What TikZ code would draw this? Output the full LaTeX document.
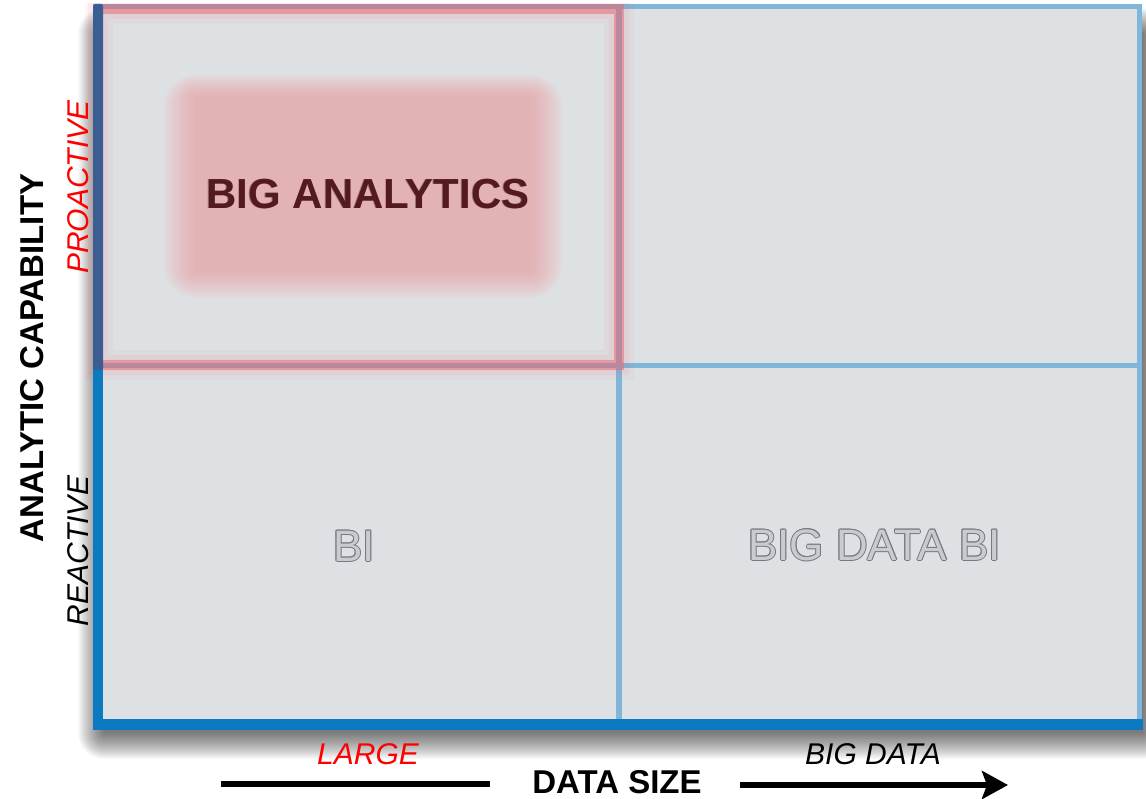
\documentclass[tikz,border=0pt]{standalone}
\usepackage{fontspec}
\setmainfont{Liberation Sans}
\usetikzlibrary{arrows.meta}

\definecolor{gridbg}{RGB}{222,225,228}
\definecolor{axisblue}{RGB}{11,123,193}
\definecolor{axisdark}{RGB}{59,94,146}
\definecolor{gridline}{RGB}{127,182,218}
\definecolor{quadred}{RGB}{235,100,110}
\definecolor{glowpink}{RGB}{248,150,154}
\definecolor{maroontext}{RGB}{84,26,30}
\definecolor{silverfill}{RGB}{200,204,208}
\definecolor{silveredge}{RGB}{118,122,126}

\newcommand{\fsz}[1]{\fontsize{#1}{#1}\selectfont}

% grey letters with a darker rim
\newcommand{\silvertext}[3]{%
  \foreach \dx/\dy in {-1/0,1/0,0/-1,0/1,-0.7/-0.7,0.7/0.7,-0.7/0.7,0.7/-0.7}
    \node[quadtext, text=silveredge, xshift=\dx pt, yshift=\dy pt] at (#2) {#3};
  \node[quadtext, text=silverfill] (#1) at (#2) {#3};
}

\begin{document}
\begin{tikzpicture}[x=1pt,y=-1pt,
  axislabel/.style={font=\fsz{33}\bfseries, anchor=base, inner sep=0pt},
  ticklabel/.style={font=\fsz{30}\itshape, anchor=base, inner sep=0pt},
  quadtext/.style={font=\fsz{44}, anchor=base, inner sep=0pt},
  hottext/.style={font=\fsz{42}\bfseries, anchor=base, inner sep=0pt},
  gridrule/.style={gridline, line width=#1},
  axisrule/.style={line width=6pt, black}
]
\useasboundingbox (0,0) rectangle (1146,799);
\fill[white] (0,0) rectangle (1146,799);

% soft drop shadow under the chart panel
\foreach \k in {0,...,26}
  \fill[black, opacity=0.022, rounded corners=\k pt]
    (104-\k, 34-\k) rectangle (1143+\k, 733+\k);

% panel
\fill[gridbg] (98,6) rectangle (1140,725);

% blurred highlight behind the top-left label
\foreach \k [evaluate=\k as \r using 2*\k+1] in {0,...,16}
  \fill[glowpink, opacity=0.046, rounded corners=\r pt]
    (195-2*\k, 97-1.4*\k) rectangle (531+2*\k, 271+1.7*\k);

% quadrant rules
\draw[gridrule=5] (98,6.5) -- (1142,6.5);
\draw[gridrule=5] (1139.5,4) -- (1139.5,727);
\draw[gridrule=6] (619,6) -- (619,724);
\draw[gridrule=5] (98,365.5) -- (1140,365.5);

% highlighted quadrant frame with glow
\begin{scope}
  \clip (85,4) rectangle (1146,799);
  \draw[quadred, opacity=0.06, line width=30] (98,9) rectangle (618.5,365.5);
  \draw[quadred, opacity=0.07, line width=20] (98,9) rectangle (618.5,365.5);
  \draw[quadred, opacity=0.5, line width=10] (98,9) rectangle (618.5,365.5);
\end{scope}

% axes
\fill[axisblue] (93,366) rectangle (103,730);
\fill[axisdark, rounded corners=2pt] (93,4) rectangle (103,370);
\fill[axisblue] (93,719) rectangle (1143,730);

% quadrant labels
\node[hottext, text=maroontext!60!white, xshift=-0.8pt, yshift=0.8pt] at (368,209) {BIG ANALYTICS};
\node[hottext, text=maroontext] (bigan) at (368,209) {BIG ANALYTICS};
\silvertext{bi}{354,561}{BI}
\silvertext{bdbi}{874.5,560}{BIG DATA BI}

% vertical axis labels
\node[axislabel, rotate=90] (ylab) at (43,358) {ANALYTIC CAPABILITY};
\node[ticklabel, rotate=90, text=red] (proactive) at (88,187) {PROACTIVE};
\node[ticklabel, rotate=90] (reactive) at (88,551) {REACTIVE};

% horizontal axis labels
\node[ticklabel, text=red] (large) at (368,764) {LARGE};
\node[ticklabel] (bigdata) at (873,764) {BIG DATA};
\node[axislabel] (xlab) at (617,793) {DATA SIZE};

% direction arrow
\coordinate (leadA) at (221,784);
\coordinate (leadB) at (490,784);
\coordinate (arrA) at (740,785);
\coordinate (arrB) at (1008,785);
\draw[axisrule] (leadA) -- (leadB);
\draw[axisrule, -{Stealth[length=26pt, width=28pt, inset=5pt]}] (arrA) -- (arrB);
\end{tikzpicture}
\end{document}
